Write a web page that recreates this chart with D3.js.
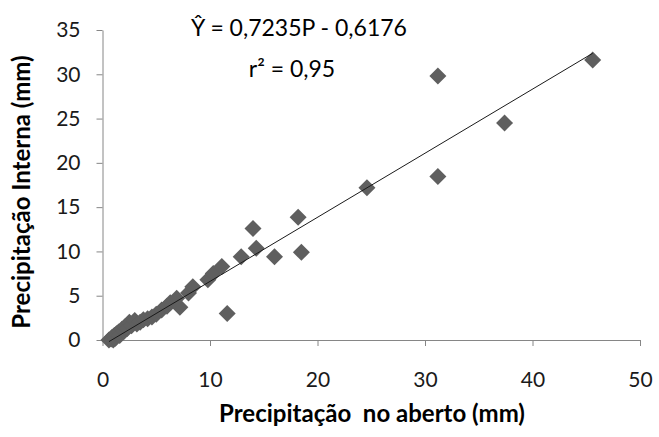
<!DOCTYPE html>
<html>
<head>
<meta charset="utf-8">
<script src="https://cdn.jsdelivr.net/npm/d3@7"></script>
<style>
  body { margin: 0; background: #fff; }
  svg text { font-family: Lato, "Open Sans", sans-serif; fill: #000; }
  .axis path, .axis line { stroke: #868686; }
  .axis text { font-size: 21px; fill: #1a1a1a; }
  .title { font-size: 24px; font-weight: bold; white-space: pre; }
  .eq { font-size: 23px; }
</style>
</head>
<body>
<script>
// open-field rainfall (mm) vs throughfall (mm)
var xValues = [0.6, 0.8, 0.9, 1.0, 1.1, 1.2, 1.3, 1.5, 1.6, 1.8, 2.0, 2.1, 2.3, 2.5, 2.7, 3.0, 3.2, 3.5, 3.8, 4.2, 4.6, 5.0, 5.5, 6.0, 6.3, 6.9, 7.2, 8.0, 8.4, 9.8, 10.3, 11.1, 11.6, 12.9, 14.0, 14.3, 16.0, 18.2, 18.5, 24.6, 31.2, 31.2, 37.4, 45.6]
var yValues = [0.0, 0.1, 0.3, 0.0, 0.5, 0.2, 0.7, 0.9, 0.5, 1.2, 1.0, 1.5, 1.3, 2.0, 1.6, 2.2, 1.8, 2.0, 2.3, 2.4, 2.6, 2.9, 3.4, 3.8, 4.2, 4.7, 3.7, 5.3, 6.0, 6.8, 7.5, 8.3, 3.0, 9.4, 12.6, 10.35, 9.4, 13.85, 9.9, 17.2, 29.8, 18.45, 24.5, 31.6]
var xTicks = [0, 10, 20, 30, 40, 50]
var yTicks = [0, 5, 10, 15, 20, 25, 30, 35]
var slope = 0.7235
var intercept = -0.6176

var data = xValues.map(function (d, i) { return {x: d, y: yValues[i]} })

var margin = {top: 30, right: 19, bottom: 97, left: 102.5}
var width = 659 - margin.left - margin.right
var height = 437 - margin.top - margin.bottom

var svg = d3.select('body').append('svg')
  .attr('width', 659)
  .attr('height', 437)

var g = svg.append('g')
  .attr('transform', 'translate(' + margin.left + ',' + margin.top + ')')

var x = d3.scaleLinear().domain([0, 50]).range([0, width])
var y = d3.scaleLinear().domain([0, 35]).range([height, 0])

var xAxis = d3.axisBottom(x).tickValues(xTicks).tickSize(6).tickSizeOuter(0).tickPadding(26)
var yAxis = d3.axisLeft(y).tickValues(yTicks).tickSize(6).tickSizeOuter(0).tickPadding(16)

g.append('g')
  .attr('class', 'x axis')
  .attr('transform', 'translate(0,' + height + ')')
  .call(xAxis)

g.append('g')
  .attr('class', 'y axis')
  .call(yAxis)

var r = 8.5
var diamond = 'M0,' + (-r) + 'L' + r + ',0L0,' + r + 'L' + (-r) + ',0Z'

g.selectAll('.dot')
  .data(data)
  .enter().append('path')
  .attr('class', 'dot')
  .attr('d', diamond)
  .attr('transform', function (d) { return 'translate(' + x(d.x) + ',' + y(d.y) + ')' })
  .style('fill', '#5f5f5f')

// trend line over the data range, drawn on top of the dots
var xMin = d3.min(xValues)
var xMax = d3.max(xValues)
g.append('line')
  .attr('x1', x(xMin))
  .attr('y1', y(slope * xMin + intercept))
  .attr('x2', x(xMax))
  .attr('y2', y(slope * xMax + intercept))
  .style('stroke', '#1a1a1a')
  .style('stroke-width', 1)

svg.append('text')
  .attr('class', 'title')
  .attr('x', 372)
  .attr('y', 422)
  .attr('text-anchor', 'middle')
  .text('Precipitação  no aberto (mm)')

svg.append('text')
  .attr('class', 'title')
  .attr('transform', 'translate(30,192) rotate(-90)')
  .attr('text-anchor', 'middle')
  .text('Precipitação Interna (mm)')

svg.append('text')
  .attr('class', 'eq')
  .attr('x', 299)
  .attr('y', 36)
  .attr('text-anchor', 'middle')
  .text('Ŷ = 0,7235P - 0,6176')

svg.append('text')
  .attr('class', 'eq')
  .attr('x', 292)
  .attr('y', 77)
  .attr('text-anchor', 'middle')
  .text('r² = 0,95')
</script>
</body>
</html>
